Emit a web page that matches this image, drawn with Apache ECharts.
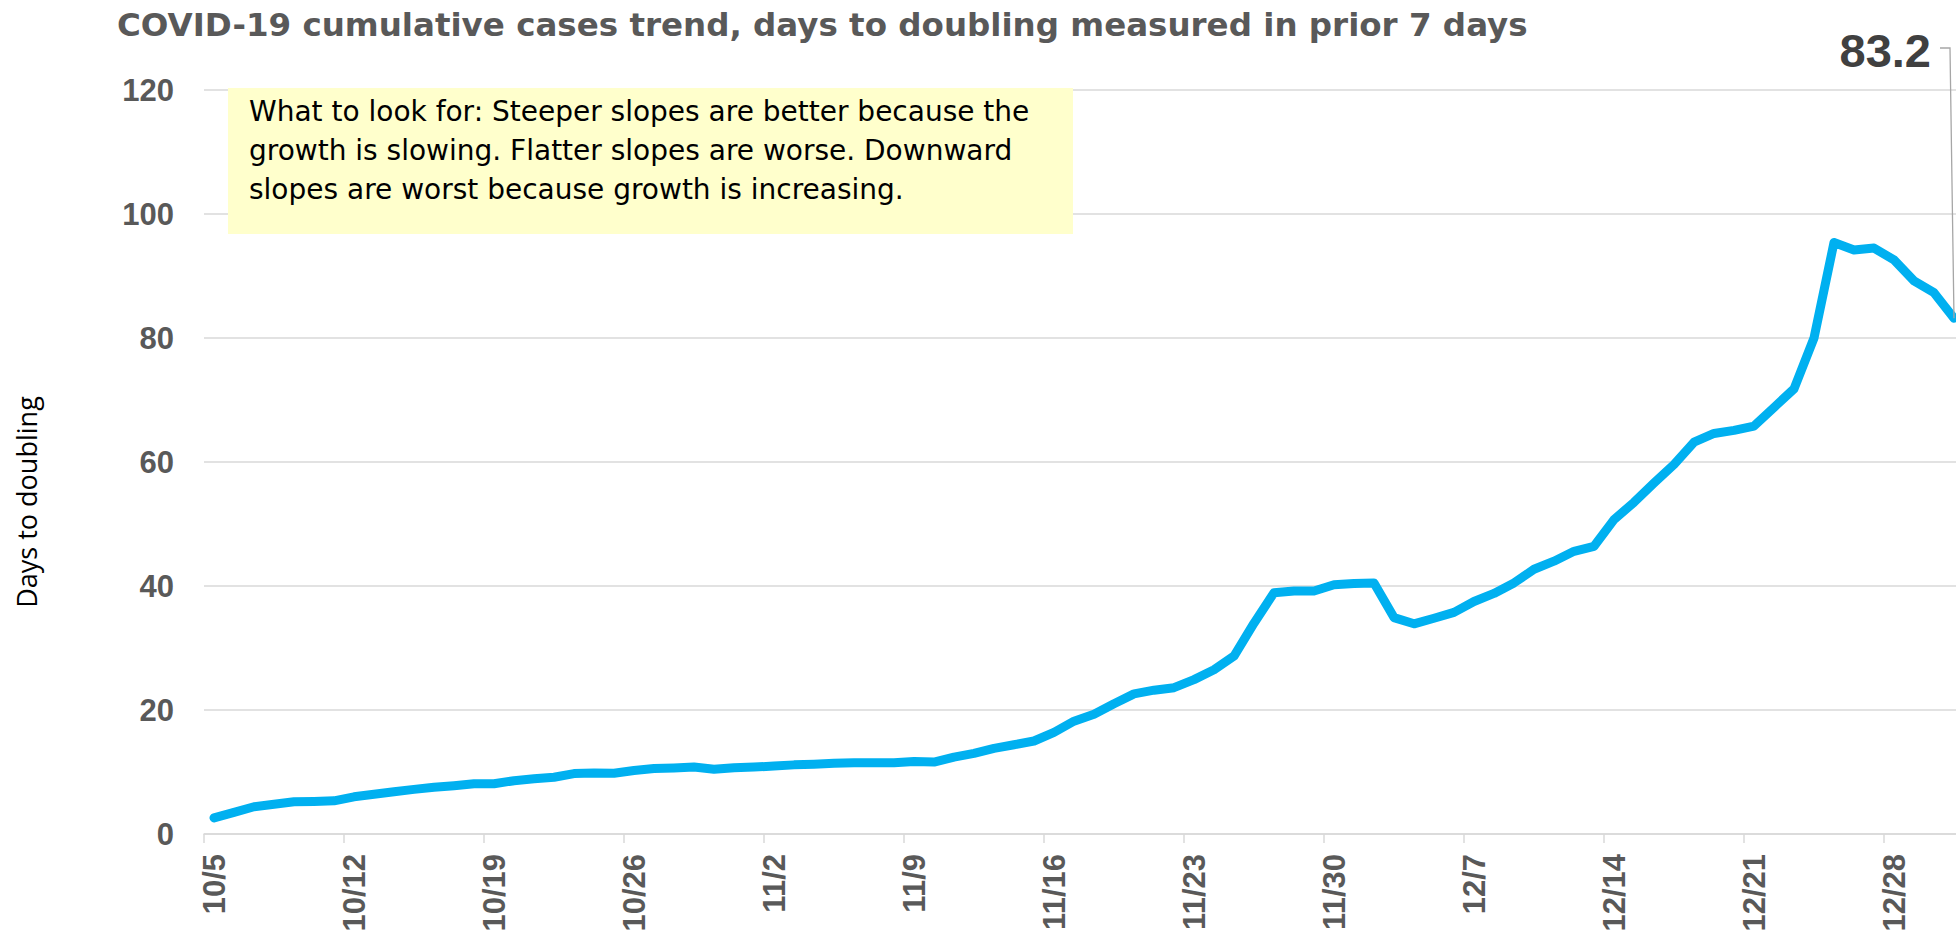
<!DOCTYPE html>
<html>
<head>
<meta charset="utf-8">
<script src="https://cdn.jsdelivr.net/npm/echarts@6/dist/echarts.min.js"></script>
<style>
  html, body { margin: 0; padding: 0; background: #ffffff; }
  #chart { width: 1956px; height: 935px; }
</style>
</head>
<body>
<div id="chart"></div>
<script>
// ---------- data ----------
const titleText = 'COVID-19 cumulative cases trend, days to doubling measured in prior 7 days';
const yAxisName = 'Days to doubling';
const noteLines = [
  'What to look for: Steeper slopes are better because the',
  'growth is slowing. Flatter slopes are worse. Downward',
  'slopes are worst because growth is increasing.'
];

const categories = [
  '10/5','10/6','10/7','10/8','10/9','10/10','10/11',
  '10/12','10/13','10/14','10/15','10/16','10/17','10/18',
  '10/19','10/20','10/21','10/22','10/23','10/24','10/25',
  '10/26','10/27','10/28','10/29','10/30','10/31','11/1',
  '11/2','11/3','11/4','11/5','11/6','11/7','11/8',
  '11/9','11/10','11/11','11/12','11/13','11/14','11/15',
  '11/16','11/17','11/18','11/19','11/20','11/21','11/22',
  '11/23','11/24','11/25','11/26','11/27','11/28','11/29',
  '11/30','12/1','12/2','12/3','12/4','12/5','12/6',
  '12/7','12/8','12/9','12/10','12/11','12/12','12/13',
  '12/14','12/15','12/16','12/17','12/18','12/19','12/20',
  '12/21','12/22','12/23','12/24','12/25','12/26','12/27',
  '12/28','12/29','12/30','12/31'
];

const daysToDoubling = [
  2.6, 3.5, 4.4, 4.8, 5.2, 5.25, 5.35,
  6.0, 6.4, 6.8, 7.2, 7.55, 7.8, 8.1,
  8.1, 8.6, 8.9, 9.15, 9.75, 9.85, 9.8,
  10.25, 10.55, 10.65, 10.8, 10.45, 10.7, 10.8,
  10.95, 11.15, 11.25, 11.4, 11.5, 11.5, 11.5,
  11.7, 11.6, 12.4, 13.0, 13.8, 14.4, 15.0,
  16.4, 18.2, 19.3, 21.0, 22.6, 23.2, 23.6,
  24.9, 26.5, 28.7, 34.0, 38.9, 39.2, 39.2,
  40.2, 40.4, 40.5, 34.9, 33.9, 34.8, 35.75,
  37.5, 38.8, 40.5, 42.7, 44.0, 45.6, 46.4,
  50.7, 53.5, 56.6, 59.6, 63.2, 64.6, 65.1,
  65.8, 68.8, 71.8, 80.0, 95.4, 94.2, 94.5,
  92.6, 89.2, 87.3, 83.2
];

const yMin = 0, yMax = 120, yStep = 20;
const labelEvery = 7;

// ---------- chart ----------
const chart = echarts.init(document.getElementById('chart'), null, { renderer: 'svg' });
const last = daysToDoubling.length - 1;
const AXIS_FONT = '"Liberation Sans", Arial, sans-serif';
const GREY = '#595959';
const GRID_GREY = '#d9d9d9';

const seriesData = daysToDoubling.map((v, i) => i === last
  ? { value: v, symbol: 'circle', symbolSize: 2, label: { show: true } }
  : v);

chart.setOption({
  animation: false,
  backgroundColor: '#ffffff',
  title: {
    text: titleText,
    left: 117,
    top: 8,
    padding: 0,
    textStyle: {
      fontFamily: '"DejaVu Sans", sans-serif',
      fontWeight: 'bold',
      fontSize: 32.5,
      color: GREY
    }
  },
  grid: {
    left: 204,
    top: 90,
    width: 1760,
    height: 744,
    containLabel: false,
    outerBoundsMode: 'none'
  },
  xAxis: {
    type: 'category',
    data: categories,
    boundaryGap: true,
    axisLine: { show: true, lineStyle: { color: GRID_GREY, width: 1.5 } },
    axisTick: { show: true, interval: labelEvery - 1, length: 9, lineStyle: { color: GRID_GREY, width: 1.5 } },
    axisLabel: {
      interval: labelEvery - 1,
      rotate: 90,
      margin: 20,
      fontFamily: AXIS_FONT,
      fontWeight: 'bold',
      fontSize: 31,
      color: GREY
    },
    splitLine: { show: false }
  },
  yAxis: {
    type: 'value',
    min: yMin,
    max: yMax,
    interval: yStep,
    name: yAxisName,
    nameLocation: 'middle',
    nameRotate: 90,
    nameGap: 164,
    nameTextStyle: {
      fontFamily: '"Open Sans", sans-serif',
      fontSize: 27,
      color: '#000000',
      padding: [0, 80, 0, 0]
    },
    axisLine: { show: false },
    axisTick: { show: false },
    axisLabel: {
      margin: 30,
      fontFamily: AXIS_FONT,
      fontWeight: 'bold',
      fontSize: 31,
      color: GREY
    },
    splitLine: { show: true, lineStyle: { color: GRID_GREY, width: 1.5 } }
  },
  series: [{
    type: 'line',
    data: seriesData,
    symbol: 'none',
    showSymbol: true,
    showAllSymbol: true,
    itemStyle: { color: '#00B0F0' },
    lineStyle: { color: '#00B0F0', width: 9, cap: 'round', join: 'round' },
    label: {
      show: false,
      formatter: '{c}',
      fontFamily: AXIS_FONT,
      fontWeight: 'bold',
      fontSize: 47,
      color: '#404040'
    },
    labelLayout: { x: 1931, y: 50, align: 'right', verticalAlign: 'middle' },
    z: 5
  }]
});

// leader line from the value label to the last data point (point position from the chart's own scales)
const endPt = chart.convertToPixel({ seriesIndex: 0 }, [last, daysToDoubling[last]]);

chart.setOption({
  graphic: [
    {
      id: 'note',
      type: 'group',
      z: 100,
      children: [
        {
          type: 'rect',
          shape: { x: 228, y: 88, width: 845, height: 146 },
          style: { fill: '#FFFFCC' }
        },
        {
          type: 'text',
          x: 249,
          y: 92,
          style: {
            text: noteLines.join('\n'),
            font: '28px "DejaVu Sans", sans-serif',
            fill: '#000000',
            lineHeight: 39,
            verticalAlign: 'top',
            align: 'left'
          }
        }
      ]
    },
    {
      id: 'leader',
      type: 'polyline',
      z: 100,
      shape: { points: [[1940, 48], [1950, 48], [endPt[0], endPt[1]]] },
      style: { stroke: '#a6a6a6', lineWidth: 1.3, fill: null }
    }
  ]
});
</script>
</body>
</html>
